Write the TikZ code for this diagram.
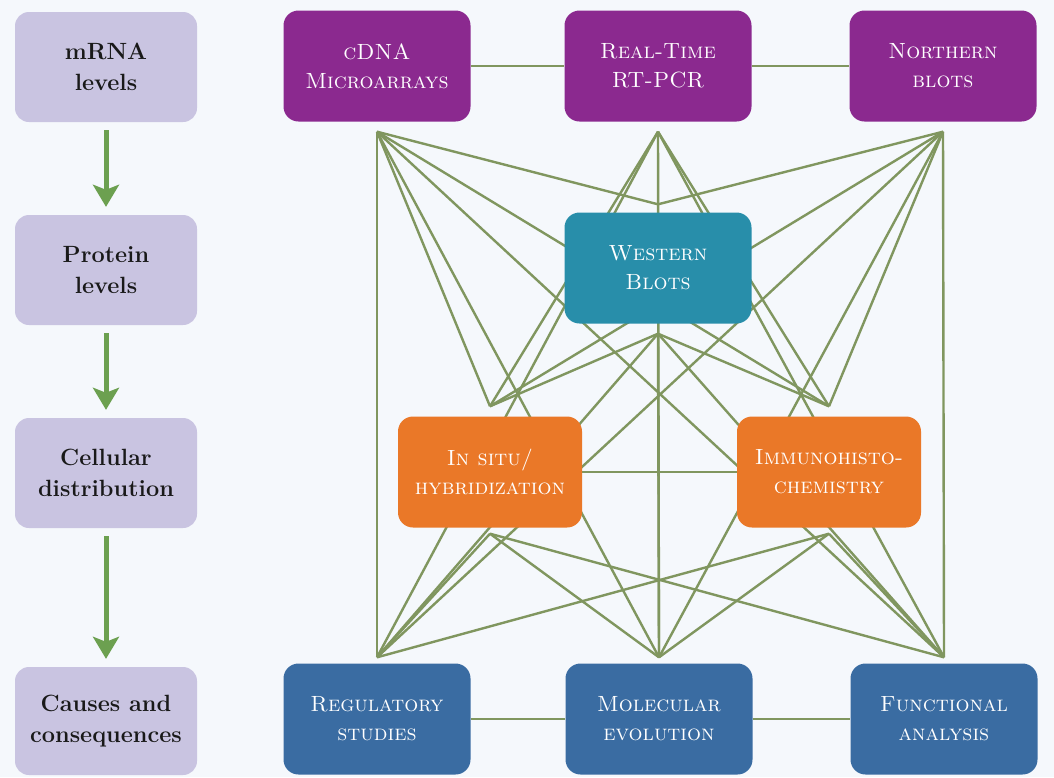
\documentclass[tikz,border=0pt]{standalone}
\usetikzlibrary{arrows.meta,backgrounds}
\definecolor{bgc}{RGB}{245,248,252}
\definecolor{purp}{RGB}{139,41,143}
\definecolor{teal2}{RGB}{40,142,170}
\definecolor{oran}{RGB}{234,120,40}
\definecolor{blu}{RGB}{58,108,162}
\definecolor{lav}{RGB}{201,196,225}
\definecolor{conn}{RGB}{128,150,95}
\definecolor{arrg}{RGB}{108,160,80}
\tikzset{
  leftbox/.style={rounded corners=14pt, fill=lav, minimum width=182pt, minimum height=110pt,
    inner sep=0pt, align=center, text=black!90, font=\fontsize{23.5}{31}\selectfont\bfseries},
  mbox/.style={rounded corners=15pt, minimum width=187pt, minimum height=111pt,
    inner sep=0pt, align=center, text=white, font=\fontsize{22}{29}\selectfont\scshape},
  conline/.style={draw=conn, line width=2.4pt},
  flowarrow/.style={draw=arrg, line width=5pt, -{Stealth[width=26pt,length=22pt,inset=5pt]}}
}
\begin{document}
\begin{tikzpicture}[x=1pt,y=-1pt]
\useasboundingbox (0,0) rectangle (1054,777);
% left column
\node[leftbox] (mrna) at (106,67) {mRNA\\levels};
\node[leftbox] (prot) at (106,270) {Protein\\levels};
\node[leftbox] (cell) at (106,473) {Cellular\\distribution};
\node[leftbox, minimum height=108pt] (cause) at (106,721) {Causes and\\consequences};
\draw[flowarrow, shorten <=8pt, shorten >=8pt] (mrna) -- (prot);
\draw[flowarrow, shorten <=8pt, shorten >=8pt] (prot) -- (cell);
\draw[flowarrow, shorten <=8pt, shorten >=8pt] (cell) -- (cause);
% method boxes
\node[mbox, fill=purp] (cdna) at (377,66) {cDNA\\Microarrays};
\node[mbox, fill=purp] (rt) at (658,66) {Real-Time\\RT-PCR};
\node[mbox, fill=purp] (north) at (943,66) {Northern\\blots};
\node[mbox, fill=teal2] (west) at (658,268) {Western\\Blots};
\node[mbox, fill=oran, minimum width=184pt] (insitu) at (490,472) {In situ/\\hybridization};
\node[mbox, fill=oran, minimum width=184pt] (immuno) at (829,472) {Immunohisto-\\chemistry};
\node[mbox, fill=blu] (reg) at (377,719) {Regulatory\\studies};
\node[mbox, fill=blu] (mol) at (659,719) {Molecular\\evolution};
\node[mbox, fill=blu] (fun) at (944,719) {Functional\\analysis};
% anchor points of the connectors
\coordinate (cdnaB) at ([yshift=-10pt]cdna.south);
\coordinate (rtB) at ([yshift=-10pt]rt.south);
\coordinate (northB) at ([yshift=-10pt]north.south);
\coordinate (westT) at ([yshift=8pt]west.north);
\coordinate (westB) at ([yshift=-10pt]west.south);
\coordinate (insituT) at ([yshift=10pt]insitu.north);
\coordinate (insituB) at ([yshift=-6pt]insitu.south);
\coordinate (immunoT) at ([yshift=10pt]immuno.north);
\coordinate (immunoB) at ([yshift=-6pt]immuno.south);
\coordinate (regT) at ([yshift=6pt]reg.north);
\coordinate (molT) at ([yshift=6pt]mol.north);
\coordinate (funT) at ([yshift=6pt]fun.north);
\begin{pgfonlayer}{background}
\fill[bgc] (0,0) rectangle (1054,777);
\foreach \a/\b in {cdnaB/regT, cdnaB/molT, cdnaB/funT, rtB/regT, rtB/molT, rtB/funT,
  northB/regT, northB/molT, northB/funT,
  cdnaB/westT, rtB/westT, northB/westT,
  cdnaB/insituT, cdnaB/immunoT, rtB/insituT, rtB/immunoT, northB/insituT, northB/immunoT,
  westB/insituT, westB/immunoT, westB/regT, westB/molT, westB/funT,
  insituB/regT, insituB/molT, insituB/funT, immunoB/regT, immunoB/molT, immunoB/funT}
  \draw[conline] (\a) -- (\b);
\draw[conline] (cdna.east) -- (rt.west);
\draw[conline] (rt.east) -- (north.west);
\draw[conline] (insitu.east) -- (immuno.west);
\draw[conline] (reg.east) -- (mol.west);
\draw[conline] (mol.east) -- (fun.west);
\end{pgfonlayer}
\end{tikzpicture}
\end{document}
